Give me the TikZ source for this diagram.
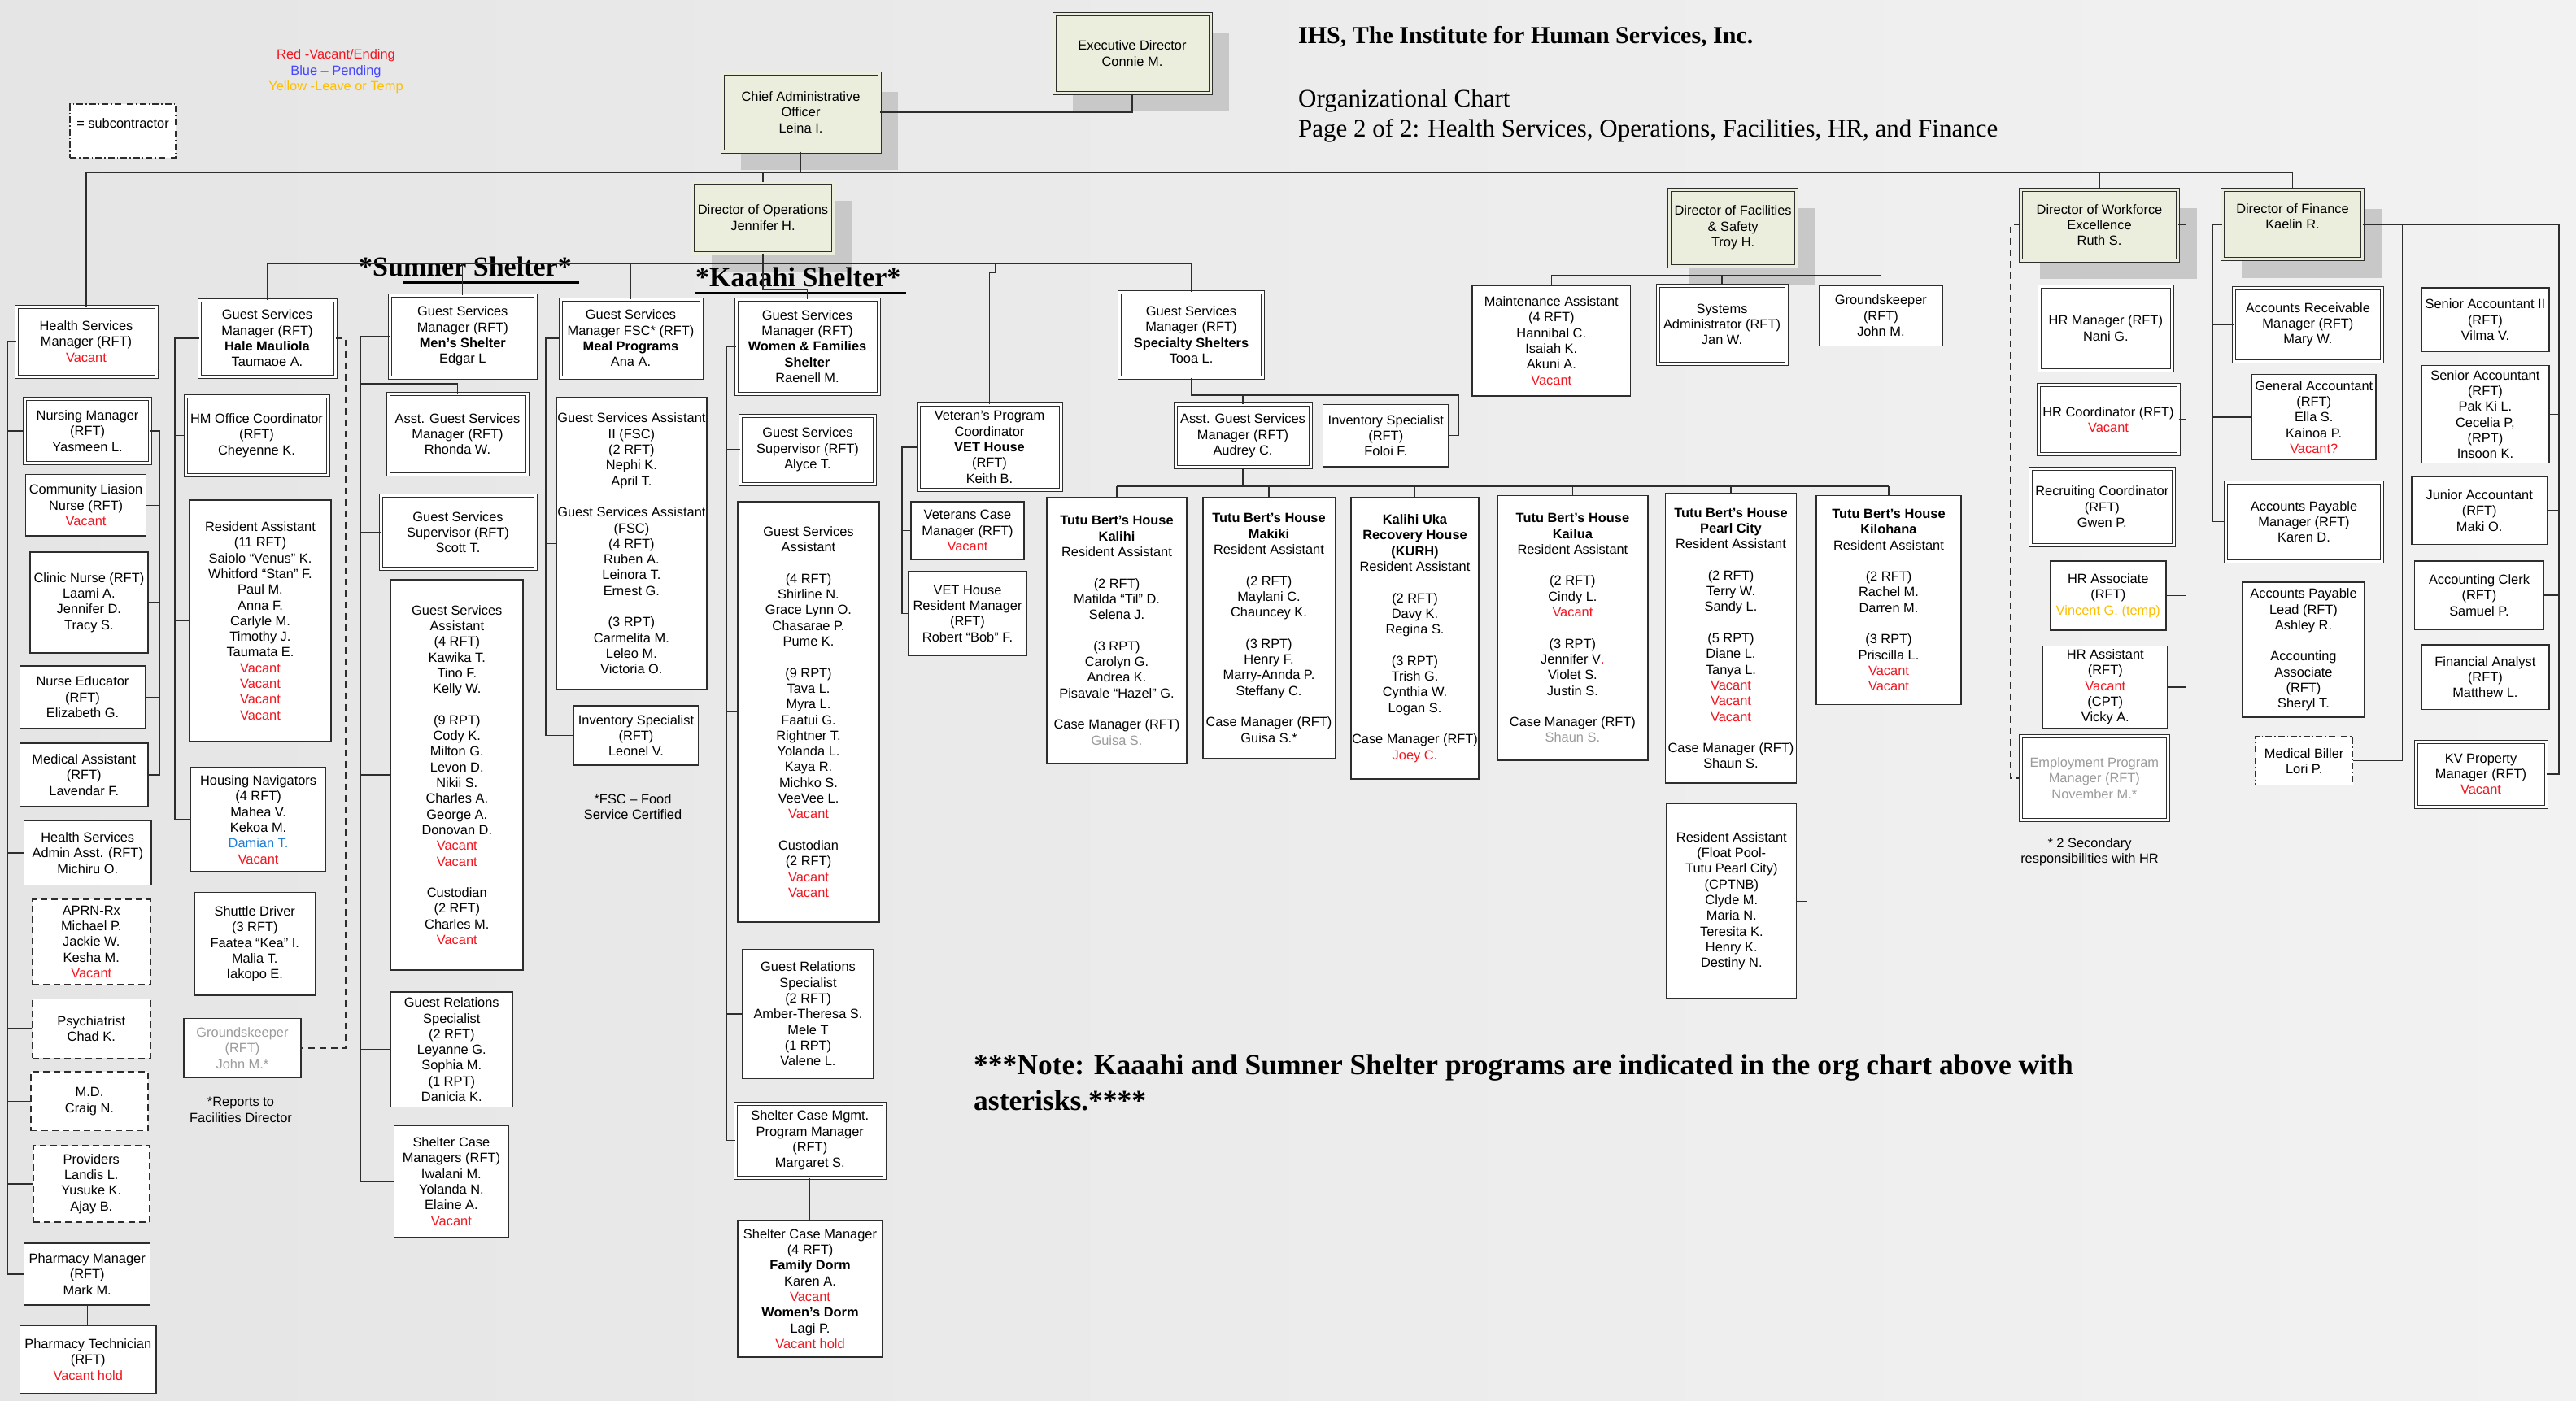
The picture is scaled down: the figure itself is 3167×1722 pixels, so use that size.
\documentclass[tikz,border=0pt]{standalone}
\usepackage{fontspec}
\setmainfont{Liberation Sans}
\newfontfamily\titlefont{Liberation Serif}
\usetikzlibrary{shadows}
\definecolor{dirfill}{RGB}{235,238,221}
\definecolor{shadowgrey}{RGB}{200,200,200}
\definecolor{lnk}{RGB}{45,45,45}
\definecolor{vred}{RGB}{245,20,30}
\definecolor{pblue}{RGB}{70,70,255}
\definecolor{tyellow}{RGB}{255,190,0}
\definecolor{dblue}{RGB}{30,125,215}
\definecolor{gtxt}{RGB}{155,155,155}
\definecolor{bgl}{RGB}{229,229,229}
\definecolor{bgr}{RGB}{242,242,242}
\newcommand\vac[1]{\textcolor{vred}{#1}}
\newcommand\gtx[1]{\textcolor{gtxt}{#1}}
\newcommand\gapline{\\[19.3pt]}

\begin{document}
\begin{tikzpicture}[x=1pt, y=-1pt,
  wh/.style 2 args={minimum width=#1, minimum height=#2},
  box/.style={draw=lnk, line width=1.4pt, fill=white, align=center, inner sep=1pt, font=\fontsize{16.4}{19.3}\selectfont},
  dbox/.style={box, line width=1pt, double=white, double distance=3pt},
  dirbox/.style={dbox, fill=dirfill, double=dirfill, drop shadow={shadow xshift=23pt, shadow yshift=-23pt, fill=shadowgrey, opacity=1}},
  subbox/.style={box, dash pattern=on 8pt off 5pt},
  subkbox/.style={box, line width=1.2pt, dash pattern=on 8pt off 3pt on 1.5pt off 3pt},
  link/.style={draw=lnk, line width=1.3pt},
  dlink/.style={link, dash pattern=on 8pt off 6pt},
  note/.style={font=\fontsize{16.4}{19.3}\selectfont, align=center},
  ttl/.style={anchor=base west, inner sep=0pt},
]
\useasboundingbox (0,0) rectangle (3167,1722);
\shade[left color=bgl, right color=bgr] (0,0) rectangle (3167,1722);

\node[ttl, font=\titlefont\bfseries\fontsize{30}{34}\selectfont] (ttl1) at (1596,53.6) {IHS, The Institute for Human Services, Inc.};
\node[ttl, font=\titlefont\fontsize{31}{36}\selectfont] (ttl2) at (1596,131) {Organizational Chart};
\node[ttl, font=\titlefont\fontsize{31}{36}\selectfont] (ttl3) at (1596,168.4) {Page 2 of 2: Health Services, Operations, Facilities, HR, and Finance};

\node[note, font=\fontsize{16.4}{19.5}\selectfont] (legend) at (413,88) {\vac{Red -Vacant/Ending}\\\textcolor{pblue}{Blue -- Pending}\\\textcolor{tyellow}{Yellow -Leave or Temp}};
\node[subkbox, wh={130}{66}] (subk) at (151,161) {= subcontractor\\~};

\node[dirbox, wh={192}{97}] (ed) at (1392,65.5) {Executive Director\\Connie M.};
\node[dirbox, wh={193}{96}] (cao) at (984.5,138) {Chief Administrative\\Officer\\Leina I.};
\node[dirbox, wh={173}{87}] (dops) at (938,267.5) {Director of Operations\\Jennifer H.};
\node[dirbox, wh={156}{94}] (dfac) at (2130.6,280) {Director of Facilities\\\& Safety\\Troy H.};
\node[dirbox, wh={193}{87}] (dwf) at (2581,276.7) {Director of Workforce\\Excellence\\Ruth S.};
\node[dirbox, wh={172}{85}] (dfin) at (2818.5,276) {Director of Finance\\Kaelin R.\\~};

\node[dbox, wh={172}{86}] (hsm) at (106,420) {Health Services\\Manager (RFT)\\\vac{Vacant}};
\node[dbox, wh={154}{78.5}] (nm) at (107.6,530) {Nursing Manager\\(RFT)\\Yasmeen L.};
\node[box, wh={148}{75.4}] (cln) at (105.6,621.3) {Community Liasion\\Nurse (RFT)\\\vac{Vacant}};
\node[box, wh={145}{124}] (cn) at (109.4,741) {Clinic Nurse (RFT)\\Laami A.\\Jennifer D.\\Tracy S.};
\node[box, wh={154}{76.4}] (ne) at (101.5,857.2) {Nurse Educator\\(RFT)\\Elizabeth G.};
\node[box, wh={157.5}{78}] (ma) at (103.3,953) {Medical Assistant\\(RFT)\\Lavendar F.};
\node[box, wh={156.4}{79}] (hsaa) at (107.8,1049) {Health Services\\Admin Asst. (RFT)\\Michiru O.};
\node[subbox, wh={145}{104.7}] (aprn) at (112.3,1158.4) {APRN-Rx\\Michael P.\\Jackie W.\\Kesha M.\\\vac{Vacant}};
\node[subbox, wh={145}{72.5}] (psy) at (112.3,1265) {Psychiatrist\\Chad K.};
\node[subbox, wh={144}{72.7}] (md) at (110,1354.4) {M.D.\\Craig N.};
\node[subbox, wh={143}{94}] (prov) at (112.3,1456) {Providers\\Landis L.\\Yusuke K.\\Ajay B.};
\node[box, wh={155}{76}] (pm) at (107.2,1567) {Pharmacy Manager\\(RFT)\\Mark M.};
\node[box, wh={167.5}{84}] (pt) at (108.3,1672) {Pharmacy Technician\\(RFT)\\\vac{Vacant hold}};

\node[dbox, wh={167}{94}] (hale) at (328.5,416) {Guest Services\\Manager (RFT)\\\textbf{Hale Mauliola}\\Taumaoe A.};
\node[dbox, wh={175}{97}] (hmoc) at (315.5,535.5) {HM Office Coordinator\\(RFT)\\Cheyenne K.};
\node[box, wh={174}{297}] (ra) at (320,763.5) {Resident Assistant\\(11 RFT)\\Saiolo “Venus” K.\\Whitford “Stan” F.\\Paul M.\\Anna F.\\Carlyle M.\\Timothy J.\\Taumata E.\\\vac{Vacant}\\\vac{Vacant}\\\vac{Vacant}\\\vac{Vacant}};
\node[box, wh={166}{128}] (hn) at (317.6,1008) {Housing Navigators\\(4 RFT)\\Mahea V.\\Kekoa M.\\\textcolor{dblue}{Damian T.}\\\vac{Vacant}};
\node[box, wh={149}{126.5}] (sd) at (313.3,1160.8) {Shuttle Driver\\(3 RFT)\\Faatea “Kea” I.\\Malia T.\\Iakopo E.};
\node[box, wh={144}{72.5}, text=gtxt] (gk2) at (298,1289) {Groundskeeper\\(RFT)\\John M.*};
\node[note] (rptnote) at (296,1365) {*Reports to\\Facilities Director};

\node[ttl, font=\titlefont\bfseries\fontsize{34}{40}\selectfont] (sumner) at (441,339) {*Sumner Shelter*};
\node[dbox, wh={178.4}{101}] (mens) at (568.8,413.5) {Guest Services\\Manager (RFT)\\\textbf{Men’s Shelter}\\Edgar L};
\node[dbox, wh={171}{99}] (agsm1) at (562.5,533.5) {Asst. Guest Services\\Manager (RFT)\\Rhonda W.};
\node[dbox, wh={190}{90}] (gss1) at (563,654.5) {Guest Services\\Supervisor (RFT)\\Scott T.};
\node[box, wh={162.4}{480}] (gsa1) at (561.8,953) {Guest Services\\Assistant\\(4 RFT)\\Kawika T.\\Tino F.\\Kelly W.\gapline (9 RPT)\\Cody K.\\Milton G.\\Levon D.\\Nikii S.\\Charles A.\\George A.\\Donovan D.\\\vac{Vacant}\\\vac{Vacant}\gapline Custodian\\(2 RFT)\\Charles M.\\\vac{Vacant}};
\node[box, wh={149.4}{141.5}] (grs1) at (555.3,1290.8) {Guest Relations\\Specialist\\(2 RFT)\\Leyanne G.\\Sophia M.\\(1 RPT)\\Danicia K.};
\node[box, wh={140.3}{138}] (scm1) at (554.9,1453) {Shelter Case\\Managers (RFT)\\Iwalani M.\\Yolanda N.\\Elaine A.\\\vac{Vacant}};

\node[dbox, wh={173}{96}] (meal) at (775.5,416) {Guest Services\\Manager FSC* (RFT)\\\textbf{Meal Programs}\\Ana A.};
\node[box, wh={185}{359}] (gsa2) at (776.4,668.5) {Guest Services Assistant\\II (FSC)\\(2 RFT)\\Nephi K.\\April T.\gapline Guest Services Assistant\\(FSC)\\(4 RFT)\\Ruben A.\\Leinora T.\\Ernest G.\gapline (3 RPT)\\Carmelita M.\\Leleo M.\\Victoria O.};
\node[box, wh={153}{73}] (inv1) at (782,904.5) {Inventory Specialist\\(RFT)\\Leonel V.};
\node[note] (fscnote) at (778,992) {*FSC -- Food\\Service Certified};

\node[ttl, font=\titlefont\bfseries\fontsize{34}{40}\selectfont] (kaaahi) at (855,352) {*Kaaahi Shelter*};
\node[dbox, wh={175}{116}] (wf) at (992.5,426) {Guest Services\\Manager (RFT)\\\textbf{Women \& Families}\\\textbf{Shelter}\\Raenell M.};
\node[dbox, wh={164.5}{84}] (gss2) at (993,553) {Guest Services\\Supervisor (RFT)\\Alyce T.};
\node[box, wh={174}{517}] (gsa3) at (994,875.5) {Guest Services\\Assistant\gapline (4 RFT)\\Shirline N.\\Grace Lynn O.\\Chasarae P.\\Pume K.\gapline (9 RPT)\\Tava L.\\Myra L.\\Faatui G.\\Rightner T.\\Yolanda L.\\Kaya R.\\Michko S.\\VeeVee L.\\\vac{Vacant}\gapline Custodian\\(2 RFT)\\\vac{Vacant}\\\vac{Vacant}};
\node[box, wh={161}{158.5}] (grs2) at (993.5,1247) {Guest Relations\\Specialist\\(2 RFT)\\Amber-Theresa S.\\Mele T\\(1 RPT)\\Valene L.};
\node[dbox, wh={182.4}{91}] (scmp) at (995.8,1402.5) {Shelter Case Mgmt.\\Program Manager\\(RFT)\\Margaret S.};
\node[box, wh={178}{168}] (scm2) at (996,1585) {Shelter Case Manager\\(4 RFT)\\\textbf{Family Dorm}\\Karen A.\\\vac{Vacant}\\\textbf{Women’s Dorm}\\Lagi P.\\\vac{Vacant hold}};

\node[dbox, wh={175}{104.5}] (vet) at (1216.5,550) {Veteran’s Program\\Coordinator\\\textbf{VET House}\\(RFT)\\Keith B.};
\node[box, wh={139}{71}] (vcm) at (1189.5,652.5) {Veterans Case\\Manager (RFT)\\\vac{Vacant}};
\node[box, wh={145}{104}] (vrm) at (1189.5,754.6) {VET House\\Resident Manager\\(RFT)\\Robert “Bob” F.};

\node[dbox, wh={176}{105}] (spec) at (1464.5,411.5) {Guest Services\\Manager (RFT)\\\textbf{Specialty Shelters}\\Tooa L.};
\node[dbox, wh={166}{76.5}] (agsm2) at (1528,535.8) {Asst. Guest Services\\Manager (RFT)\\Audrey C.};
\node[box, wh={154.5}{76.5}] (inv2) at (1703.8,535.8) {Inventory Specialist\\(RFT)\\Foloi F.};

\node[box, wh={172}{326.7}] (kal) at (1373,775.4) {\textbf{Tutu Bert’s House}\\\textbf{Kalihi}\\Resident Assistant\gapline (2 RFT)\\Matilda “Til” D.\\Selena J.\gapline (3 RPT)\\Carolyn G.\\Andrea K.\\Pisavale “Hazel” G.\gapline Case Manager (RFT)\\\gtx{Guisa S.}};
\node[box, wh={162.4}{321}] (mak) at (1560,772.5) {\textbf{Tutu Bert’s House}\\\textbf{Makiki}\\Resident Assistant\gapline (2 RFT)\\Maylani C.\\Chauncey K.\gapline (3 RPT)\\Henry F.\\Marry-Annda P.\\Steffany C.\gapline Case Manager (RFT)\\Guisa S.*};
\node[box, wh={155}{346}] (kurh) at (1739.5,785) {\textbf{Kalihi Uka}\\\textbf{Recovery House}\\\textbf{(KURH)}\\Resident Assistant\gapline (2 RFT)\\Davy K.\\Regina S.\gapline (3 RPT)\\Trish G.\\Cynthia W.\\Logan S.\gapline Case Manager (RFT)\\\vac{Joey C.}};
\node[box, wh={185}{325.4}] (kai) at (1933.4,772.3) {\textbf{Tutu Bert’s House}\\\textbf{Kailua}\\Resident Assistant\gapline (2 RFT)\\Cindy L.\\\vac{Vacant}\gapline (3 RPT)\\Jennifer V\vac{.}\\Violet S.\\Justin S.\gapline Case Manager (RFT)\\\gtx{Shaun S.}};
\node[box, wh={161}{356}] (pc) at (2128,785) {\textbf{Tutu Bert’s House}\\\textbf{Pearl City}\\Resident Assistant\gapline (2 RFT)\\Terry W.\\Sandy L.\gapline (5 RPT)\\Diane L.\\Tanya L.\\\vac{Vacant}\\\vac{Vacant}\\\vac{Vacant}\gapline Case Manager (RFT)\\Shaun S.};
\node[box, wh={159.7}{239.6}] (fp) at (2128.8,1108.2) {Resident Assistant\\(Float Pool-\\Tutu Pearl City)\\(CPTNB)\\Clyde M.\\Maria N.\\Teresita K.\\Henry K.\\Destiny N.};
\node[box, wh={178}{257}] (kil) at (2322,738) {\textbf{Tutu Bert’s House}\\\textbf{Kilohana}\\Resident Assistant\gapline (2 RFT)\\Rachel M.\\Darren M.\gapline (3 RPT)\\Priscilla L.\\\vac{Vacant}\\\vac{Vacant}};

\node[box, wh={194.6}{135.8}] (mnt) at (1907.3,418.9) {Maintenance Assistant\\(4 RFT)\\Hannibal C.\\Isaiah K.\\Akuni A.\\\vac{Vacant}};
\node[dbox, wh={158}{96}] (sysadm) at (2117,399) {Systems\\Administrator (RFT)\\Jan W.};
\node[box, wh={151.3}{74.6}] (gk1) at (2312.4,388.3) {Groundskeeper\\(RFT)\\John M.};

\node[dbox, wh={162.4}{103.4}] (hrm) at (2588.8,403.7) {HR Manager (RFT)\\Nani G.};
\node[dbox, wh={172}{85.3}] (hrc) at (2592,516) {HR Coordinator (RFT)\\\vac{Vacant}};
\node[dbox, wh={176.5}{94.8}] (rc) at (2584.3,623.4) {Recruiting Coordinator\\(RFT)\\Gwen P.};
\node[box, wh={142}{85}] (hra) at (2591.8,732.5) {HR Associate\\(RFT)\\\textcolor{tyellow}{Vincent G. (temp)}};
\node[box, wh={153.5}{101}] (hras) at (2588.3,845) {HR Assistant\\(RFT)\\\vac{Vacant}\\(CPT)\\Vicky A.};
\node[dbox, wh={180.4}{103.3}, text=gtxt] (epm) at (2574.8,957) {Employment Program\\Manager (RFT)\\November M.*};
\node[note] (hrnote) at (2569,1048) {* 2 Secondary\\responsibilities with HR};

\node[dbox, wh={182}{90.7}] (arm) at (2837.4,399.4) {Accounts Receivable\\Manager (RFT)\\Mary W.};
\node[box, wh={152.6}{105.2}] (ga) at (2844.7,513) {General Accountant\\(RFT)\\Ella S.\\Kainoa P.\\\vac{Vacant?}};
\node[dbox, wh={191.7}{97}] (apm) at (2832.5,641.5) {Accounts Payable\\Manager (RFT)\\Karen D.};
\node[box, wh={150}{166}] (apl) at (2832,799) {Accounts Payable\\Lead (RFT)\\Ashley R.\gapline Accounting\\Associate\\(RFT)\\Sheryl T.};
\node[subkbox, wh={120}{59.5}] (mb) at (2832.7,935.8) {Medical Biller\\Lori P.};
\node[box, wh={156.8}{78.5}] (sa2) at (3055.4,393.3) {Senior Accountant II\\(RFT)\\Vilma V.};
\node[box, wh={156.8}{119.8}] (sa) at (3055.4,509.6) {Senior Accountant\\(RFT)\\Pak Ki L.\\Cecelia P,\\(RPT)\\Insoon K.};
\node[box, wh={166.4}{83.7}] (ja) at (3048.2,627.9) {Junior Accountant\\(RFT)\\Maki O.};
\node[box, wh={159}{84}] (ac) at (3048,732) {Accounting Clerk\\(RFT)\\Samuel P.};
\node[box, wh={156.8}{79.5}] (fa) at (3055.4,832.8) {Financial Analyst\\(RFT)\\Matthew L.};
\node[dbox, wh={160}{80}] (kv) at (3050,952) {KV Property\\Manager (RFT)\\\vac{Vacant}};

\node[ttl, font=\titlefont\bfseries\fontsize{35.5}{40}\selectfont] (note1) at (1197,1321.5) {***Note: Kaaahi and Sumner Shelter programs are indicated in the org chart above with};
\node[ttl, font=\titlefont\bfseries\fontsize{35.5}{40}\selectfont] (note2) at (1197,1365) {asterisks.****};

\coordinate (mainbar) at (0,212);
\coordinate (opsbar) at (0,324);
\coordinate (specbar) at (0,486);
\coordinate (tutubar) at (0,598);
\coordinate (facbar) at (0,338.7);
\coordinate (hsbus) at (9,0);
\coordinate (nbus) at (196.4,0);
\coordinate (halebus) at (215,0);
\coordinate (mensbus) at (443,0);
\coordinate (mealbus) at (671,0);
\coordinate (wfbus) at (893,0);
\coordinate (vetbus) at (1109,0);
\coordinate (hrbus) at (2687.6,0);
\coordinate (finbus) at (2720.4,0);
\coordinate (rbus) at (3146,0);

\draw[line width=2.2pt] (sumner.base west) ++(54,8.5) -- ++(217,0);
\draw[line width=2.2pt] (kaaahi.base west) ++(0,8) -- ++(259,0);

\draw[link] (ed.south) |- (cao.east);
\draw[link] (cao.south) -- (cao.south |- mainbar);
\draw[link] (hsm.north |- mainbar) -- (dfin.north |- mainbar);
\foreach \n in {hsm,dops,dfac,dwf,dfin} \draw[link] (\n.north) -- (\n.north |- mainbar);

\draw[link] (hsm.west) -| (hsbus |- pm.west) -- (pm.west);
\foreach \n in {nm,hsaa,aprn,psy,md,prov} \draw[link] (\n.west) -- (\n.west -| hsbus);
\draw[link] (nm.east) -| (nbus |- ma.east) -- (ma.east);
\foreach \n in {cln,cn,ne} \draw[link] (\n.east) -- (\n.east -| nbus);
\draw[link] (pm.south) -- (pm.south |- pt.north);

\draw[link] (hale.north |- opsbar) -- (spec.north |- opsbar);
\foreach \n in {hale,mens,meal,spec} \draw[link] (\n.north) -- (\n.north |- opsbar);
\draw[link] (dops.south) -- ++(0,45) -| (wf.north);
\draw[link] (vet.north) -- ++(0,-161.5) -- ++(7.5,0) -- ++(0,-12);

\draw[link] (hale.west) -| (halebus |- hn.west) -- (hn.west);
\foreach \n in {hmoc,ra} \draw[link] (\n.west) -- (\n.west -| halebus);
\draw[dlink] (hale.east) -- ++(12.5,0) |- (gk2.east);

\draw[link] (mens.west) -| (mensbus |- scm1.west) -- (scm1.west);
\foreach \n in {gss1,gsa1,grs1} \draw[link] (\n.west) -- (\n.west -| mensbus);
\draw[link] (agsm1.north) -- ++(0,-11.5) -- ++(-119.5,0);

\draw[link] (meal.west) -| (mealbus |- inv1.west) -- (inv1.west);
\draw[link] (gsa2.west) -- (gsa2.west -| mealbus);

\draw[link] (wf.west) -| (wfbus |- scmp.west) -- (scmp.west);
\foreach \n in {gss2,gsa3,grs2} \draw[link] (\n.west) -- (\n.west -| wfbus);
\draw[link] (scmp.south) -- (scmp.south |- scm2.north);

\draw[link] (vet.west) -| (vetbus |- vrm.west) -- (vrm.west);
\draw[link] (vcm.west) -- (vcm.west -| vetbus);

\draw[link] (spec.south) -- (spec.south |- specbar) -- ++(328.5,0) |- (inv2.east);
\draw[link] (agsm2.north) -- (agsm2.north |- specbar);
\draw[link] (agsm2.south) -- (agsm2.south |- tutubar);
\draw[link] (kal.north |- tutubar) -- (kil.north |- tutubar);
\foreach \n in {kal,mak,kurh,kai,pc,kil} \draw[link] (\n.north) -- (\n.north |- tutubar);
\draw[link] (fp.east) -- ++(12.3,0) -- ++(0,-510.2);

\draw[link] (dfac.south) -- (dfac.south |- facbar);
\draw[link] (mnt.north |- facbar) -- (gk1.north |- facbar);
\foreach \n in {mnt,sysadm,gk1} \draw[link] (\n.north) -- (\n.north |- facbar);

\draw[link] (dwf.east) -| (hrbus |- hras.east) -- (hras.east);
\foreach \n in {hrm,hrc,rc,hra} \draw[link] (\n.east) -- (\n.east -| hrbus);
\draw[dlink] (dwf.west) -- ++(-12.2,0) |- (epm.west);

\draw[link] (dfin.west) -| (finbus |- apm.west) -- (apm.west);
\foreach \n in {arm,ga} \draw[link] (\n.west) -- (\n.west -| finbus);
\draw[link] (apm.south) -- (apm.south |- apl.north);
\draw[link] (dfin.east) -| (rbus |- kv.east) -- (kv.east);
\foreach \n in {sa2,sa,ja,ac,fa} \draw[link] (\n.east) -- (\n.east -| rbus);
\draw[link] (mb.east) -- ++(60.2,0) |- (dfin.east);
\end{tikzpicture}
\end{document}
